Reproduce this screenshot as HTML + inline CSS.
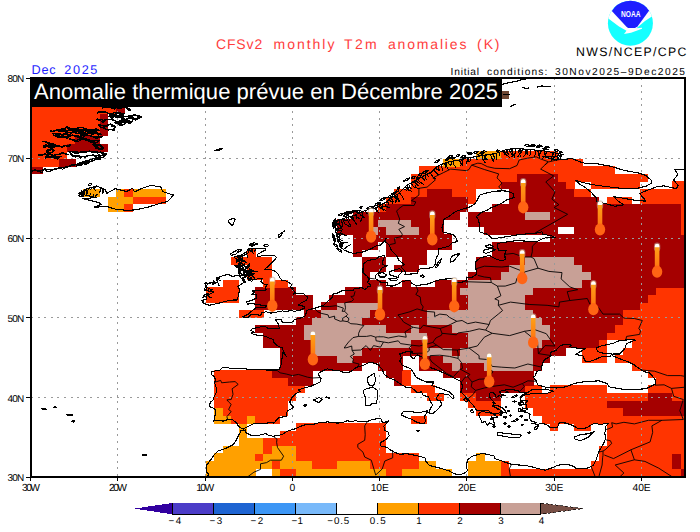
<!DOCTYPE html>
<html><head><meta charset="utf-8">
<style>
html,body{margin:0;padding:0;background:#fff;}
body{width:700px;height:532px;position:relative;overflow:hidden;font-family:"Liberation Sans",sans-serif;}
svg{position:absolute;left:0;top:0;}
.t{position:absolute;white-space:nowrap;line-height:1;}
</style></head><body>
<svg width="700" height="532" viewBox="0 0 700 532" shape-rendering="crispEdges">
<defs>
<linearGradient id="tg" x1="0" y1="0" x2="0" y2="1"><stop offset="0" stop-color="#ffa818"/><stop offset="1" stop-color="#ff7010"/></linearGradient>
<g id="th" shape-rendering="auto">
<rect x="-3.2" y="-1.2" width="6.4" height="9" rx="3.2" fill="#b8a8a8" opacity="0.55"/>
<rect x="-2.3" y="0" width="4.6" height="27" fill="url(#tg)" rx="2.3"/>
<path d="M-2.3 3.6 V2.3 A2.3 2.3 0 0 1 2.3 2.3 V3.6 Z" fill="#fff"/>
<ellipse cx="0" cy="28" rx="5.2" ry="6.1" fill="#ff6414"/>
</g>
<clipPath id="mapclip"><rect x="30.5" y="77.7" width="654.5" height="399.3"/></clipPath>
</defs>
<g id="cells">
<rect x="206.1" y="476.1" width="49.4" height="1.2" fill="#ffa000"/>
<rect x="271.6" y="476.1" width="8.5" height="1.2" fill="#ffa000"/>
<rect x="279.7" y="476.1" width="16.7" height="1.2" fill="#ff3400"/>
<rect x="296.1" y="476.1" width="90.3" height="1.2" fill="#ffa000"/>
<rect x="386.1" y="476.1" width="16.7" height="1.2" fill="#ff3400"/>
<rect x="402.4" y="476.1" width="49.4" height="1.2" fill="#ffa000"/>
<rect x="467.9" y="476.1" width="33.0" height="1.2" fill="#ffa000"/>
<rect x="500.6" y="476.1" width="180.3" height="1.2" fill="#ff3400"/>
<rect x="680.5" y="476.1" width="4.8" height="1.2" fill="#a50000"/>
<rect x="206.1" y="468.6" width="49.4" height="7.9" fill="#ffa000"/>
<rect x="271.6" y="468.6" width="8.5" height="7.9" fill="#ffa000"/>
<rect x="279.7" y="468.6" width="16.7" height="7.9" fill="#ff3400"/>
<rect x="296.1" y="468.6" width="90.3" height="7.9" fill="#ffa000"/>
<rect x="386.1" y="468.6" width="16.7" height="7.9" fill="#ff3400"/>
<rect x="402.4" y="468.6" width="49.4" height="7.9" fill="#ffa000"/>
<rect x="467.9" y="468.6" width="33.0" height="7.9" fill="#ffa000"/>
<rect x="500.6" y="468.6" width="180.3" height="7.9" fill="#ff3400"/>
<rect x="680.5" y="468.6" width="4.8" height="7.9" fill="#a50000"/>
<rect x="206.1" y="461.0" width="65.7" height="7.9" fill="#ffa000"/>
<rect x="271.6" y="461.0" width="8.5" height="7.9" fill="#ff3400"/>
<rect x="279.7" y="461.0" width="33.0" height="7.9" fill="#ffa000"/>
<rect x="312.4" y="461.0" width="24.8" height="7.9" fill="#ff3400"/>
<rect x="337.0" y="461.0" width="33.0" height="7.9" fill="#ffa000"/>
<rect x="369.7" y="461.0" width="49.4" height="7.9" fill="#ff3400"/>
<rect x="418.8" y="461.0" width="16.7" height="7.9" fill="#ffa000"/>
<rect x="467.9" y="461.0" width="33.0" height="7.9" fill="#ffa000"/>
<rect x="500.6" y="461.0" width="8.5" height="7.9" fill="#ff3400"/>
<rect x="590.6" y="461.0" width="82.1" height="7.9" fill="#ff3400"/>
<rect x="672.4" y="461.0" width="8.5" height="7.9" fill="#a50000"/>
<rect x="680.5" y="461.0" width="4.8" height="7.9" fill="#ff3400"/>
<rect x="214.3" y="453.4" width="41.2" height="7.9" fill="#ffa000"/>
<rect x="255.2" y="453.4" width="8.5" height="7.9" fill="#ff3400"/>
<rect x="263.4" y="453.4" width="33.0" height="7.9" fill="#ffa000"/>
<rect x="296.1" y="453.4" width="123.0" height="7.9" fill="#ff3400"/>
<rect x="476.0" y="453.4" width="8.5" height="7.9" fill="#ffa000"/>
<rect x="598.8" y="453.4" width="73.9" height="7.9" fill="#ff3400"/>
<rect x="672.4" y="453.4" width="8.5" height="7.9" fill="#a50000"/>
<rect x="680.5" y="453.4" width="4.8" height="7.9" fill="#ff3400"/>
<rect x="222.5" y="445.9" width="41.2" height="7.9" fill="#ffa000"/>
<rect x="263.4" y="445.9" width="8.5" height="7.9" fill="#ff3400"/>
<rect x="271.6" y="445.9" width="24.8" height="7.9" fill="#ffa000"/>
<rect x="296.1" y="445.9" width="90.3" height="7.9" fill="#ff3400"/>
<rect x="598.8" y="445.9" width="86.5" height="7.9" fill="#ff3400"/>
<rect x="238.8" y="438.3" width="24.8" height="7.9" fill="#ffa000"/>
<rect x="263.4" y="438.3" width="123.0" height="7.9" fill="#ff3400"/>
<rect x="606.9" y="438.3" width="78.4" height="7.9" fill="#ff3400"/>
<rect x="238.8" y="430.8" width="8.5" height="7.9" fill="#ffa000"/>
<rect x="279.7" y="430.8" width="106.6" height="7.9" fill="#ff3400"/>
<rect x="606.9" y="430.8" width="78.4" height="7.9" fill="#ff3400"/>
<rect x="238.8" y="423.2" width="8.5" height="7.9" fill="#ffa000"/>
<rect x="296.1" y="423.2" width="90.3" height="7.9" fill="#ff3400"/>
<rect x="549.7" y="423.2" width="8.5" height="7.9" fill="#ff3400"/>
<rect x="574.2" y="423.2" width="16.7" height="7.9" fill="#ff3400"/>
<rect x="606.9" y="423.2" width="78.4" height="7.9" fill="#ff3400"/>
<rect x="214.3" y="415.7" width="16.7" height="7.9" fill="#ffa000"/>
<rect x="230.7" y="415.7" width="16.7" height="7.9" fill="#ff3400"/>
<rect x="247.0" y="415.7" width="8.5" height="7.9" fill="#ffa000"/>
<rect x="255.2" y="415.7" width="24.8" height="7.9" fill="#ff3400"/>
<rect x="410.6" y="415.7" width="16.7" height="7.9" fill="#ff3400"/>
<rect x="541.5" y="415.7" width="143.8" height="7.9" fill="#ff3400"/>
<rect x="214.3" y="408.1" width="8.5" height="7.9" fill="#ffa000"/>
<rect x="222.5" y="408.1" width="65.7" height="7.9" fill="#ff3400"/>
<rect x="476.0" y="408.1" width="24.8" height="7.9" fill="#ff3400"/>
<rect x="533.3" y="408.1" width="90.3" height="7.9" fill="#ff3400"/>
<rect x="623.3" y="408.1" width="62.0" height="7.9" fill="#a50000"/>
<rect x="214.3" y="400.5" width="73.9" height="7.9" fill="#ff3400"/>
<rect x="467.9" y="400.5" width="33.0" height="7.9" fill="#ff3400"/>
<rect x="525.1" y="400.5" width="82.1" height="7.9" fill="#ff3400"/>
<rect x="606.9" y="400.5" width="78.4" height="7.9" fill="#a50000"/>
<rect x="214.3" y="393.0" width="82.1" height="7.9" fill="#ff3400"/>
<rect x="427.0" y="393.0" width="16.7" height="7.9" fill="#ff3400"/>
<rect x="459.7" y="393.0" width="16.7" height="7.9" fill="#ff3400"/>
<rect x="476.0" y="393.0" width="24.8" height="7.9" fill="#a50000"/>
<rect x="525.1" y="393.0" width="123.0" height="7.9" fill="#ff3400"/>
<rect x="647.8" y="393.0" width="24.8" height="7.9" fill="#a50000"/>
<rect x="672.4" y="393.0" width="12.9" height="7.9" fill="#ff3400"/>
<rect x="214.3" y="385.4" width="90.3" height="7.9" fill="#ff3400"/>
<rect x="410.6" y="385.4" width="24.8" height="7.9" fill="#ff3400"/>
<rect x="459.7" y="385.4" width="65.7" height="7.9" fill="#a50000"/>
<rect x="525.1" y="385.4" width="16.7" height="7.9" fill="#ff3400"/>
<rect x="549.7" y="385.4" width="57.6" height="7.9" fill="#ff3400"/>
<rect x="647.8" y="385.4" width="37.5" height="7.9" fill="#ff3400"/>
<rect x="214.3" y="377.9" width="73.9" height="7.9" fill="#ff3400"/>
<rect x="287.9" y="377.9" width="24.8" height="7.9" fill="#a50000"/>
<rect x="394.2" y="377.9" width="8.5" height="7.9" fill="#a50000"/>
<rect x="402.4" y="377.9" width="8.5" height="7.9" fill="#ff3400"/>
<rect x="459.7" y="377.9" width="73.9" height="7.9" fill="#a50000"/>
<rect x="656.0" y="377.9" width="29.3" height="7.9" fill="#ff3400"/>
<rect x="214.3" y="370.3" width="57.6" height="7.9" fill="#ff3400"/>
<rect x="271.6" y="370.3" width="41.2" height="7.9" fill="#a50000"/>
<rect x="386.1" y="370.3" width="16.7" height="7.9" fill="#a50000"/>
<rect x="402.4" y="370.3" width="8.5" height="7.9" fill="#ff3400"/>
<rect x="443.3" y="370.3" width="90.3" height="7.9" fill="#a50000"/>
<rect x="647.8" y="370.3" width="37.5" height="7.9" fill="#ff3400"/>
<rect x="279.7" y="362.8" width="82.1" height="7.9" fill="#a50000"/>
<rect x="377.9" y="362.8" width="24.8" height="7.9" fill="#a50000"/>
<rect x="418.8" y="362.8" width="33.0" height="7.9" fill="#a50000"/>
<rect x="451.5" y="362.8" width="8.5" height="7.9" fill="#c8a096"/>
<rect x="459.7" y="362.8" width="24.8" height="7.9" fill="#a50000"/>
<rect x="484.2" y="362.8" width="49.4" height="7.9" fill="#c8a096"/>
<rect x="533.3" y="362.8" width="8.5" height="7.9" fill="#a50000"/>
<rect x="631.5" y="362.8" width="53.8" height="7.9" fill="#ff3400"/>
<rect x="279.7" y="355.2" width="57.6" height="7.9" fill="#a50000"/>
<rect x="337.0" y="355.2" width="16.7" height="7.9" fill="#c8a096"/>
<rect x="353.4" y="355.2" width="49.4" height="7.9" fill="#a50000"/>
<rect x="418.8" y="355.2" width="24.8" height="7.9" fill="#a50000"/>
<rect x="443.3" y="355.2" width="90.3" height="7.9" fill="#c8a096"/>
<rect x="533.3" y="355.2" width="16.7" height="7.9" fill="#a50000"/>
<rect x="582.4" y="355.2" width="24.8" height="7.9" fill="#ff3400"/>
<rect x="615.1" y="355.2" width="70.2" height="7.9" fill="#ff3400"/>
<rect x="279.7" y="347.7" width="33.0" height="7.9" fill="#a50000"/>
<rect x="312.4" y="347.7" width="49.4" height="7.9" fill="#c8a096"/>
<rect x="361.5" y="347.7" width="65.7" height="7.9" fill="#a50000"/>
<rect x="427.0" y="347.7" width="24.8" height="7.9" fill="#c8a096"/>
<rect x="451.5" y="347.7" width="8.5" height="7.9" fill="#a50000"/>
<rect x="459.7" y="347.7" width="73.9" height="7.9" fill="#c8a096"/>
<rect x="533.3" y="347.7" width="33.0" height="7.9" fill="#a50000"/>
<rect x="582.4" y="347.7" width="24.8" height="7.9" fill="#ff3400"/>
<rect x="623.3" y="347.7" width="62.0" height="7.9" fill="#ff3400"/>
<rect x="263.4" y="340.1" width="49.4" height="7.9" fill="#a50000"/>
<rect x="312.4" y="340.1" width="98.5" height="7.9" fill="#c8a096"/>
<rect x="410.6" y="340.1" width="57.6" height="7.9" fill="#a50000"/>
<rect x="467.9" y="340.1" width="73.9" height="7.9" fill="#c8a096"/>
<rect x="541.5" y="340.1" width="57.6" height="7.9" fill="#a50000"/>
<rect x="598.8" y="340.1" width="8.5" height="7.9" fill="#ff3400"/>
<rect x="631.5" y="340.1" width="53.8" height="7.9" fill="#ff3400"/>
<rect x="263.4" y="332.5" width="41.2" height="7.9" fill="#a50000"/>
<rect x="304.3" y="332.5" width="123.0" height="7.9" fill="#c8a096"/>
<rect x="427.0" y="332.5" width="41.2" height="7.9" fill="#a50000"/>
<rect x="467.9" y="332.5" width="82.1" height="7.9" fill="#c8a096"/>
<rect x="549.7" y="332.5" width="57.6" height="7.9" fill="#a50000"/>
<rect x="606.9" y="332.5" width="78.4" height="7.9" fill="#ff3400"/>
<rect x="255.2" y="325.0" width="49.4" height="7.9" fill="#a50000"/>
<rect x="304.3" y="325.0" width="82.1" height="7.9" fill="#c8a096"/>
<rect x="386.1" y="325.0" width="24.8" height="7.9" fill="#a50000"/>
<rect x="410.6" y="325.0" width="8.5" height="7.9" fill="#c8a096"/>
<rect x="418.8" y="325.0" width="33.0" height="7.9" fill="#a50000"/>
<rect x="451.5" y="325.0" width="98.5" height="7.9" fill="#c8a096"/>
<rect x="549.7" y="325.0" width="65.7" height="7.9" fill="#a50000"/>
<rect x="615.1" y="325.0" width="70.2" height="7.9" fill="#ff3400"/>
<rect x="296.1" y="317.4" width="16.7" height="7.9" fill="#a50000"/>
<rect x="312.4" y="317.4" width="49.4" height="7.9" fill="#c8a096"/>
<rect x="361.5" y="317.4" width="65.7" height="7.9" fill="#a50000"/>
<rect x="427.0" y="317.4" width="114.8" height="7.9" fill="#c8a096"/>
<rect x="541.5" y="317.4" width="82.1" height="7.9" fill="#a50000"/>
<rect x="623.3" y="317.4" width="62.0" height="7.9" fill="#ff3400"/>
<rect x="238.8" y="309.9" width="24.8" height="7.9" fill="#ff3400"/>
<rect x="304.3" y="309.9" width="16.7" height="7.9" fill="#a50000"/>
<rect x="320.6" y="309.9" width="49.4" height="7.9" fill="#c8a096"/>
<rect x="369.7" y="309.9" width="57.6" height="7.9" fill="#a50000"/>
<rect x="427.0" y="309.9" width="106.6" height="7.9" fill="#c8a096"/>
<rect x="533.3" y="309.9" width="90.3" height="7.9" fill="#a50000"/>
<rect x="623.3" y="309.9" width="62.0" height="7.9" fill="#ff3400"/>
<rect x="255.2" y="302.3" width="57.6" height="7.9" fill="#a50000"/>
<rect x="320.6" y="302.3" width="16.7" height="7.9" fill="#a50000"/>
<rect x="337.0" y="302.3" width="41.2" height="7.9" fill="#c8a096"/>
<rect x="377.9" y="302.3" width="90.3" height="7.9" fill="#a50000"/>
<rect x="467.9" y="302.3" width="57.6" height="7.9" fill="#c8a096"/>
<rect x="525.1" y="302.3" width="114.8" height="7.9" fill="#a50000"/>
<rect x="639.6" y="302.3" width="45.7" height="7.9" fill="#ff3400"/>
<rect x="206.1" y="294.8" width="33.0" height="7.9" fill="#ff3400"/>
<rect x="255.2" y="294.8" width="57.6" height="7.9" fill="#a50000"/>
<rect x="328.8" y="294.8" width="139.4" height="7.9" fill="#a50000"/>
<rect x="467.9" y="294.8" width="57.6" height="7.9" fill="#c8a096"/>
<rect x="525.1" y="294.8" width="123.0" height="7.9" fill="#a50000"/>
<rect x="647.8" y="294.8" width="37.5" height="7.9" fill="#ff3400"/>
<rect x="206.1" y="287.2" width="33.0" height="7.9" fill="#ff3400"/>
<rect x="255.2" y="287.2" width="41.2" height="7.9" fill="#a50000"/>
<rect x="345.2" y="287.2" width="114.8" height="7.9" fill="#a50000"/>
<rect x="459.7" y="287.2" width="73.9" height="7.9" fill="#c8a096"/>
<rect x="533.3" y="287.2" width="123.0" height="7.9" fill="#a50000"/>
<rect x="656.0" y="287.2" width="29.3" height="7.9" fill="#ff3400"/>
<rect x="222.5" y="279.7" width="16.7" height="7.9" fill="#ff3400"/>
<rect x="263.4" y="279.7" width="24.8" height="7.9" fill="#ff3400"/>
<rect x="361.5" y="279.7" width="24.8" height="7.9" fill="#a50000"/>
<rect x="402.4" y="279.7" width="8.5" height="7.9" fill="#a50000"/>
<rect x="435.1" y="279.7" width="33.0" height="7.9" fill="#a50000"/>
<rect x="467.9" y="279.7" width="114.8" height="7.9" fill="#c8a096"/>
<rect x="582.4" y="279.7" width="102.9" height="7.9" fill="#a50000"/>
<rect x="247.0" y="272.1" width="24.8" height="7.9" fill="#ff3400"/>
<rect x="361.5" y="272.1" width="8.5" height="7.9" fill="#a50000"/>
<rect x="467.9" y="272.1" width="33.0" height="7.9" fill="#a50000"/>
<rect x="500.6" y="272.1" width="90.3" height="7.9" fill="#c8a096"/>
<rect x="590.6" y="272.1" width="94.7" height="7.9" fill="#a50000"/>
<rect x="247.0" y="264.5" width="24.8" height="7.9" fill="#ff3400"/>
<rect x="361.5" y="264.5" width="24.8" height="7.9" fill="#a50000"/>
<rect x="394.2" y="264.5" width="24.8" height="7.9" fill="#a50000"/>
<rect x="476.0" y="264.5" width="33.0" height="7.9" fill="#a50000"/>
<rect x="508.8" y="264.5" width="73.9" height="7.9" fill="#c8a096"/>
<rect x="582.4" y="264.5" width="102.9" height="7.9" fill="#a50000"/>
<rect x="230.7" y="257.0" width="41.2" height="7.9" fill="#ff3400"/>
<rect x="361.5" y="257.0" width="24.8" height="7.9" fill="#a50000"/>
<rect x="402.4" y="257.0" width="24.8" height="7.9" fill="#a50000"/>
<rect x="476.0" y="257.0" width="49.4" height="7.9" fill="#a50000"/>
<rect x="525.1" y="257.0" width="49.4" height="7.9" fill="#c8a096"/>
<rect x="574.2" y="257.0" width="111.1" height="7.9" fill="#a50000"/>
<rect x="247.0" y="249.4" width="8.5" height="7.9" fill="#ff3400"/>
<rect x="353.4" y="249.4" width="8.5" height="7.9" fill="#a50000"/>
<rect x="386.1" y="249.4" width="41.2" height="7.9" fill="#a50000"/>
<rect x="492.4" y="249.4" width="192.9" height="7.9" fill="#a50000"/>
<rect x="353.4" y="241.9" width="24.8" height="7.9" fill="#a50000"/>
<rect x="386.1" y="241.9" width="65.7" height="7.9" fill="#a50000"/>
<rect x="492.4" y="241.9" width="192.9" height="7.9" fill="#a50000"/>
<rect x="353.4" y="234.3" width="98.5" height="7.9" fill="#a50000"/>
<rect x="549.7" y="234.3" width="135.6" height="7.9" fill="#a50000"/>
<rect x="337.0" y="226.8" width="33.0" height="7.9" fill="#a50000"/>
<rect x="369.7" y="226.8" width="8.5" height="7.9" fill="#c8a096"/>
<rect x="377.9" y="226.8" width="8.5" height="7.9" fill="#a50000"/>
<rect x="386.1" y="226.8" width="33.0" height="7.9" fill="#c8a096"/>
<rect x="418.8" y="226.8" width="24.8" height="7.9" fill="#a50000"/>
<rect x="484.2" y="226.8" width="73.9" height="7.9" fill="#a50000"/>
<rect x="574.2" y="226.8" width="106.6" height="7.9" fill="#a50000"/>
<rect x="680.5" y="226.8" width="4.8" height="7.9" fill="#ff3400"/>
<rect x="337.0" y="219.2" width="41.2" height="7.9" fill="#a50000"/>
<rect x="377.9" y="219.2" width="33.0" height="7.9" fill="#c8a096"/>
<rect x="410.6" y="219.2" width="33.0" height="7.9" fill="#a50000"/>
<rect x="467.9" y="219.2" width="213.0" height="7.9" fill="#a50000"/>
<rect x="680.5" y="219.2" width="4.8" height="7.9" fill="#ff3400"/>
<rect x="353.4" y="211.6" width="106.6" height="7.9" fill="#a50000"/>
<rect x="467.9" y="211.6" width="57.6" height="7.9" fill="#a50000"/>
<rect x="525.1" y="211.6" width="24.8" height="7.9" fill="#c8a096"/>
<rect x="549.7" y="211.6" width="131.2" height="7.9" fill="#a50000"/>
<rect x="680.5" y="211.6" width="4.8" height="7.9" fill="#ff3400"/>
<rect x="108.0" y="204.1" width="16.7" height="7.9" fill="#ffa000"/>
<rect x="124.3" y="204.1" width="8.5" height="7.9" fill="#ff3400"/>
<rect x="377.9" y="204.1" width="8.5" height="7.9" fill="#ff3400"/>
<rect x="386.1" y="204.1" width="82.1" height="7.9" fill="#a50000"/>
<rect x="492.4" y="204.1" width="188.4" height="7.9" fill="#a50000"/>
<rect x="680.5" y="204.1" width="4.8" height="7.9" fill="#ff3400"/>
<rect x="108.0" y="196.5" width="24.8" height="7.9" fill="#ffa000"/>
<rect x="132.5" y="196.5" width="33.0" height="7.9" fill="#ff3400"/>
<rect x="386.1" y="196.5" width="24.8" height="7.9" fill="#ff3400"/>
<rect x="410.6" y="196.5" width="57.6" height="7.9" fill="#a50000"/>
<rect x="467.9" y="196.5" width="8.5" height="7.9" fill="#ff3400"/>
<rect x="508.8" y="196.5" width="90.3" height="7.9" fill="#a50000"/>
<rect x="606.9" y="196.5" width="24.8" height="7.9" fill="#ff3400"/>
<rect x="639.6" y="196.5" width="45.7" height="7.9" fill="#ff3400"/>
<rect x="83.4" y="189.0" width="16.7" height="7.9" fill="#ffa000"/>
<rect x="116.1" y="189.0" width="8.5" height="7.9" fill="#ffa000"/>
<rect x="124.3" y="189.0" width="8.5" height="7.9" fill="#ff3400"/>
<rect x="132.5" y="189.0" width="33.0" height="7.9" fill="#ffa000"/>
<rect x="394.2" y="189.0" width="33.0" height="7.9" fill="#ff3400"/>
<rect x="427.0" y="189.0" width="24.8" height="7.9" fill="#a50000"/>
<rect x="451.5" y="189.0" width="24.8" height="7.9" fill="#ff3400"/>
<rect x="508.8" y="189.0" width="65.7" height="7.9" fill="#a50000"/>
<rect x="574.2" y="189.0" width="16.7" height="7.9" fill="#ff3400"/>
<rect x="639.6" y="189.0" width="45.7" height="7.9" fill="#ff3400"/>
<rect x="410.6" y="181.4" width="90.3" height="7.9" fill="#ff3400"/>
<rect x="500.6" y="181.4" width="65.7" height="7.9" fill="#a50000"/>
<rect x="566.0" y="181.4" width="8.5" height="7.9" fill="#ff3400"/>
<rect x="590.6" y="181.4" width="49.4" height="7.9" fill="#ff3400"/>
<rect x="672.4" y="181.4" width="12.9" height="7.9" fill="#ff3400"/>
<rect x="410.6" y="173.9" width="106.6" height="7.9" fill="#ff3400"/>
<rect x="517.0" y="173.9" width="41.2" height="7.9" fill="#a50000"/>
<rect x="557.8" y="173.9" width="90.3" height="7.9" fill="#ff3400"/>
<rect x="30.5" y="166.3" width="12.3" height="7.9" fill="#a50000"/>
<rect x="418.8" y="166.3" width="196.6" height="7.9" fill="#ff3400"/>
<rect x="30.5" y="158.8" width="28.7" height="7.9" fill="#ff3400"/>
<rect x="58.9" y="158.8" width="16.7" height="7.9" fill="#a50000"/>
<rect x="443.3" y="158.8" width="16.7" height="7.9" fill="#ffa000"/>
<rect x="459.7" y="158.8" width="123.0" height="7.9" fill="#ff3400"/>
<rect x="30.5" y="151.2" width="36.9" height="7.9" fill="#ff3400"/>
<rect x="476.0" y="151.2" width="24.8" height="7.9" fill="#ffa000"/>
<rect x="500.6" y="151.2" width="57.6" height="7.9" fill="#ff3400"/>
<rect x="30.5" y="143.6" width="36.9" height="7.9" fill="#ff3400"/>
<rect x="67.1" y="143.6" width="41.2" height="7.9" fill="#a50000"/>
<rect x="30.5" y="136.1" width="45.0" height="7.9" fill="#ff3400"/>
<rect x="75.2" y="136.1" width="24.8" height="7.9" fill="#a50000"/>
<rect x="30.5" y="128.5" width="69.6" height="7.9" fill="#ff3400"/>
<rect x="99.8" y="128.5" width="8.5" height="7.9" fill="#a50000"/>
<rect x="30.5" y="121.0" width="69.6" height="7.9" fill="#ff3400"/>
<rect x="99.8" y="121.0" width="8.5" height="7.9" fill="#a50000"/>
<rect x="30.5" y="113.4" width="69.6" height="7.9" fill="#ff3400"/>
<rect x="99.8" y="113.4" width="8.5" height="7.9" fill="#a50000"/>
<rect x="30.5" y="105.9" width="85.9" height="7.9" fill="#ff3400"/>
<rect x="116.1" y="105.9" width="8.5" height="7.9" fill="#a50000"/>
<rect x="500.6" y="90.8" width="8.5" height="7.9" fill="#6e4632"/>
</g>
<g id="gridlines" stroke="#9a9a9a" stroke-width="1" stroke-dasharray="2,4.6" fill="none">
<path d="M117.8 78V477M205 78V477M292.3 78V477M379.6 78V477M466.8 78V477M554.1 78V477M641.4 78V477"/>
<path d="M31 158H685M31 238H685M31 317.5H685M31 397.5H685"/>
</g>
<g id="lines" fill="none" stroke="#000" stroke-width="1" shape-rendering="crispEdges" clip-path="url(#mapclip)" stroke-linejoin="round">
<path d="M276.6 370.0 L267.0 370.0 L259.1 369.2 L253.0 370.0 L242.6 368.4 L231.2 368.4 L225.1 367.2 L222.5 367.6 L219.9 370.0 L212.0 371.6 L211.1 374.0 L214.6 377.2 L215.5 380.4 L214.6 382.8 L216.4 388.0 L216.4 392.3 L214.6 395.5 L212.9 400.3 L210.3 401.9 L209.4 406.7 L212.0 407.5 L214.6 409.1 L215.5 409.9 L215.5 413.9 L214.6 417.1 L213.8 421.1 L217.3 420.3 L223.4 421.1 L227.7 419.5 L232.1 419.5 L236.5 422.7 L238.2 425.9 L239.9 427.5 L243.4 429.1 L246.1 427.5 L253.9 423.5 L261.8 423.5 L271.4 422.7 L274.0 423.1 L278.3 417.9 L286.2 416.3 L286.2 413.1 L287.9 410.7 L294.1 407.1 L291.4 405.1 L289.7 401.9 L292.3 397.1 L296.7 393.1 L300.2 391.5 L298.4 390.0 L302.8 388.4 L311.5 386.0 L320.2 382.0 L321.1 378.8 L319.4 377.2 L318.5 373.2 L322.9 370.8 L327.2 368.8 L334.2 370.4 L339.4 370.8 L343.8 372.4 L346.4 372.8 L350.8 371.6 L356.0 367.6 L357.8 366.8 L363.9 365.2 L370.0 362.0 L377.8 364.4 L382.2 369.2 L383.9 374.0 L389.2 378.0 L395.3 380.4 L399.7 383.6 L405.8 387.2 L411.0 387.2 L415.4 390.8 L417.1 392.3 L421.5 391.9 L423.2 395.5 L428.5 396.7 L430.2 401.1 L432.8 405.1 L430.6 407.9 L428.9 413.1 L432.8 413.5 L437.2 409.9 L441.5 405.1 L440.7 401.1 L436.3 399.5 L437.2 396.3 L439.8 393.1 L443.3 393.9 L448.5 394.7 L452.9 398.7 L453.8 395.9 L449.4 391.9 L440.7 388.4 L431.9 385.6 L433.7 382.0 L426.7 382.0 L420.6 379.6 L416.2 377.2 L411.0 368.8 L402.3 365.2 L399.7 361.2 L401.4 357.6 L399.7 354.0 L406.6 351.6 L412.7 352.0 L410.1 353.2 L411.0 356.4 L413.6 358.8 L417.1 354.8 L422.3 357.2 L425.0 362.8 L431.9 368.4 L435.4 369.2 L444.2 373.2 L450.3 376.0 L453.8 378.0 L459.0 380.4 L461.6 382.4 L462.5 386.8 L460.7 392.3 L462.5 393.5 L466.9 398.3 L468.6 400.3 L473.0 405.1 L476.4 410.3 L481.7 410.7 L487.8 410.3 L492.2 413.5 L486.9 412.3 L481.7 411.5 L478.2 413.9 L480.8 419.5 L481.7 422.7 L485.2 421.5 L487.8 425.5 L489.5 422.7 L494.8 425.5 L493.0 418.7 L491.3 416.7 L494.8 417.9 L497.4 417.1 L493.0 413.9 L498.3 413.5 L501.8 415.9 L502.2 411.5 L498.3 409.1 L492.2 406.3 L493.9 404.3 L492.6 402.3 L495.6 403.5 L492.2 400.3 L489.5 397.1 L489.5 393.1 L492.6 392.3 L495.6 395.1 L496.1 397.5 L499.1 395.5 L501.8 397.5 L501.8 394.7 L505.2 395.9 L500.9 393.9 L499.1 391.5 L505.2 390.0 L511.4 389.6 L518.3 390.4 L519.6 392.3 L526.2 392.3 L521.0 396.3 L525.3 393.9 L527.9 392.3 L532.3 389.4 L536.7 389.2 L545.4 389.2 L546.3 387.3 L537.5 384.8 L536.7 381.6 L533.2 377.2 L535.8 375.6 L536.2 371.6 L541.0 370.0 L541.9 366.8 L542.3 363.6 L544.5 359.6 L551.1 356.0 L550.6 352.4 L555.9 350.4 L560.7 345.2 L567.2 344.4 L571.6 345.2 L569.8 346.8 L578.6 348.4 L585.5 348.4 L575.9 354.4 L582.9 356.0 L584.7 360.4 L586.8 362.0 L590.8 361.2 L597.8 358.4 L601.2 356.8 L610.0 356.4 L611.7 354.0 L604.7 353.6 L597.8 351.6 L596.0 348.0 L601.2 346.0 L613.5 343.2 L620.0 340.4 L631.8 339.6 L635.3 340.0 L626.6 343.6 L624.8 348.8 L619.6 354.0 L613.5 354.0 L612.2 355.6 L617.8 358.0 L622.2 359.6 L628.3 362.0 L633.5 364.4 L638.8 368.4 L644.0 371.6 L650.1 373.2 L655.4 380.0 L655.4 384.0 L645.8 388.8 L638.8 389.2 L627.4 389.6 L623.1 389.2 L615.2 388.0 L609.1 386.8 L607.4 383.6 L599.1 380.9 L587.3 381.3 L575.1 383.2 L566.3 386.8 L556.7 388.0 L546.3 387.3 M545.8 389.2 L553.2 391.2 L546.3 393.5 L535.8 393.1 L530.6 393.9 L522.7 395.5 L521.0 397.5 L520.1 401.1 L527.5 400.7 L525.3 403.5 L527.1 405.9 L526.2 407.9 L527.9 409.5 L522.7 407.9 L521.8 411.1 L526.2 412.3 L530.1 413.9 L529.7 418.3 L531.4 421.1 L536.7 422.7 L531.4 423.5 L537.5 424.3 L541.9 423.5 L546.3 424.3 L550.6 427.9 L557.6 427.1 L559.4 422.7 L566.3 423.1 L571.6 425.1 L578.6 428.7 L586.4 427.9 L594.3 423.1 L601.2 424.7 L604.7 423.5 L608.2 423.5 L605.6 426.7 L606.0 429.1 L604.7 433.1 L605.6 437.9 L604.7 441.5 L602.1 445.9 L599.5 450.6 L597.8 454.6 L596.0 460.2 L593.4 465.0 L590.8 466.6 L587.3 468.2 L580.3 468.2 L575.9 468.2 L574.2 466.6 L569.8 465.0 L562.8 464.2 L557.6 465.4 L553.2 467.4 L545.4 470.2 L536.7 468.2 L529.7 466.2 L519.2 465.0 L512.2 464.6 L501.8 461.0 L494.8 458.6 L493.9 455.8 L484.3 453.8 L480.8 453.8 L472.1 456.2 L467.3 460.2 L466.4 467.4 L467.7 470.6 L463.4 473.8 L458.1 474.6 L454.6 473.8 L449.4 471.0 L444.2 469.4 L437.2 467.4 L429.3 465.4 L425.8 461.0 L425.0 457.8 L417.1 455.8 L407.5 453.8 L399.7 454.2 L393.5 451.8 L389.2 449.0 L387.4 447.5 L380.5 445.9 L380.5 442.7 L386.6 439.1 L389.2 435.5 L388.3 432.3 L384.8 430.3 L383.9 426.3 L388.7 420.7 L384.8 422.3 L382.2 422.3 L381.3 419.1 L378.3 418.5 L372.6 419.5 L367.4 421.5 L360.4 421.9 L355.1 420.5 L352.5 421.9 L347.3 420.7 L342.1 422.7 L336.8 423.1 L328.1 421.9 L318.9 422.7 L313.3 424.3 L303.7 425.1 L293.2 429.5 L289.7 430.3 L286.6 431.5 L281.8 434.7 L273.1 436.3 L266.6 434.7 L266.1 433.5 L258.3 435.5 L251.3 435.5 L246.1 432.7 L245.6 429.9 L240.8 430.7 L239.9 433.1 L237.3 437.9 L234.7 442.7 L232.5 445.1 L226.0 448.3 L218.1 451.0 L213.8 455.4 L211.6 458.6 L206.8 465.0 L206.3 472.2 L208.5 473.8 L207.7 477.0 M276.6 370.0 L279.2 369.2 L281.0 365.2 L281.8 360.0 L282.7 352.8 L286.2 356.4 L283.6 351.6 L282.3 348.0 L276.6 345.2 L273.5 342.0 L273.1 339.2 L270.5 338.8 L267.9 337.2 L262.6 335.6 L254.3 334.8 L251.3 332.9 L254.8 332.5 L250.9 330.5 L252.2 328.5 L257.8 327.7 L261.8 326.5 L265.3 326.5 L268.7 328.9 L274.9 328.1 L279.2 328.1 L278.3 323.7 L275.3 319.5 L281.0 319.7 L282.7 322.5 L290.6 322.9 L293.2 321.3 L294.1 319.7 L301.9 317.7 L305.8 315.7 L306.3 311.3 L308.5 309.7 L314.1 308.5 L320.2 306.5 L323.7 305.3 L327.2 301.7 L332.0 297.7 L333.3 293.7 L336.8 293.3 L339.4 292.0 L343.8 290.1 L353.4 290.5 L354.3 288.5 L362.1 287.7 L364.7 289.3 L366.5 288.5 L368.2 286.4 L370.9 286.1 L370.0 284.5 L367.4 282.5 L369.5 278.9 L367.8 277.4 L367.4 276.2 L363.0 273.0 L363.0 269.4 L363.4 264.2 L367.4 260.6 L376.1 259.0 L379.1 256.6 L384.8 255.4 L383.9 258.2 L382.2 262.2 L382.2 264.6 L387.4 265.8 L382.2 267.8 L379.6 271.8 L377.4 273.4 L375.2 275.8 L375.2 278.5 L379.6 281.3 L380.9 282.5 L387.4 282.1 L387.0 285.7 L392.2 286.1 L397.9 284.1 L401.4 281.7 L409.3 280.1 L411.9 283.3 L416.2 285.7 L428.0 283.9 L436.3 280.9 L440.7 279.3 L452.0 278.7 L456.4 280.5 L454.2 281.3 L455.5 282.4 L461.6 282.5 L466.0 280.5 L466.4 277.7 L471.2 277.7 L476.0 275.0 L476.4 271.8 L476.0 269.4 L475.6 265.4 L476.0 261.4 L480.4 257.8 L489.5 255.4 L494.8 258.6 L501.8 261.0 L505.2 259.4 L504.8 254.2 L506.1 250.6 L499.1 250.6 L497.4 247.4 L497.0 243.8 L502.2 242.4 L508.3 241.8 L516.6 240.6 L523.6 241.0 L537.1 241.7 L540.2 239.8 L545.4 237.8 L555.9 237.8 L551.5 235.8 L542.8 234.2 L541.9 231.8 L534.9 233.4 L527.1 233.8 L516.6 235.0 L510.0 236.2 L501.8 237.4 L492.6 238.9 L489.5 235.8 L486.0 233.8 L479.1 231.8 L479.9 228.2 L479.5 224.6 L478.2 219.1 L476.4 216.7 L480.8 212.7 L487.8 209.9 L490.4 207.9 L493.9 206.7 L501.8 203.1 L506.6 199.9 L514.0 197.5 L513.1 193.5 L507.0 191.1 L503.1 190.9 L494.8 191.1 L486.0 193.1 L479.9 195.1 L477.3 199.9 L474.7 203.9 L469.5 207.1 L461.6 209.5 L455.5 211.5 L451.1 214.7 L449.0 216.7 L444.2 218.7 L443.3 223.8 L442.0 227.0 L442.4 231.8 L448.5 233.4 L453.8 235.0 L456.4 238.6 L457.3 241.4 L452.0 243.0 L449.0 246.2 L441.5 248.2 L438.1 249.0 L438.9 254.2 L437.6 255.4 L435.9 259.2 L435.4 264.1 L432.4 267.8 L428.5 268.1 L421.5 268.2 L417.1 270.6 L417.5 273.0 L412.7 273.9 L404.9 274.3 L405.8 272.6 L403.1 269.0 L401.0 267.0 L404.5 264.2 L399.2 260.6 L396.6 255.8 L391.4 250.6 L389.6 245.8 L387.9 243.8 L385.3 241.8 L386.1 238.2 L383.9 241.8 L380.5 245.0 L376.1 245.8 L371.7 248.6 L368.7 249.8 L362.1 252.2 L353.8 253.4 L349.9 252.6 L343.8 249.8 L340.7 247.4 L342.1 245.4 L338.1 242.2 L337.7 238.2 L336.8 235.8 L335.9 232.6 L335.1 229.0 L335.5 224.6 L336.8 220.6 L346.0 217.7 L354.7 215.5 L359.5 212.7 L368.2 209.5 L376.1 207.9 L379.6 205.5 L387.4 201.5 L390.1 198.3 L398.8 193.5 L402.3 189.5 L407.5 184.7 L418.0 179.3 L426.7 174.3 L431.9 171.9 L436.3 167.1 L440.7 164.7 L449.4 161.6 L457.7 160.4 L466.9 157.6 L475.6 156.8 L484.3 155.2 L495.6 153.6 L506.1 149.6 L517.3 148.2 L527.9 149.6 L541.0 150.4 L549.8 152.0 L563.7 154.6 L553.2 156.8 L542.8 156.4 L554.1 159.6 L562.8 159.6 L571.6 158.4 L580.3 162.0 L584.7 163.2 L597.8 163.9 L610.8 166.3 L623.9 170.3 L638.8 173.1 L645.8 175.5 L651.0 179.9 L651.9 183.1 L645.8 186.3 L637.0 188.3 L623.9 188.7 L610.8 187.1 L597.8 185.5 L589.0 183.9 L580.3 181.9 L575.9 180.3 L579.4 183.9 L584.7 187.1 L590.8 191.9 L596.0 197.5 L596.9 201.5 L606.5 203.9 L615.2 206.3 L623.9 204.7 L619.6 202.3 L613.5 196.7 L623.9 198.3 L637.0 200.7 L645.8 201.1 L643.1 197.5 L639.6 193.5 L648.4 189.9 L658.0 186.3 L664.1 185.9 L676.3 188.7 L678.0 185.5 L673.7 179.9 L678.0 174.3 L674.6 169.5 L685.0 169.5 M242.6 316.9 L248.2 314.1 L252.6 310.5 L255.7 307.7 L262.6 307.7 L266.1 306.9 L268.7 304.9 L264.4 305.7 L257.8 304.5 L254.8 304.9 L254.3 303.3 L247.8 304.1 L246.1 302.1 L251.3 300.5 L256.5 298.1 L257.0 294.1 L250.9 294.9 L254.8 292.1 L252.2 290.9 L256.5 290.9 L265.3 290.5 L266.1 289.7 L265.7 286.9 L267.4 284.5 L264.4 284.5 L260.9 281.3 L262.6 278.1 L260.9 278.1 L253.9 279.7 L248.7 280.1 L247.4 277.4 L251.7 273.8 L249.5 271.4 L250.9 269.8 L246.1 271.0 L243.4 275.0 L243.4 269.4 L244.3 266.2 L238.2 263.8 L241.7 261.4 L242.6 259.0 L241.7 255.0 L246.9 251.4 L248.7 248.4 L257.4 248.8 L265.7 248.2 L265.3 250.2 L257.4 254.2 L257.4 256.6 L263.5 255.6 L274.9 255.8 L276.6 257.4 L274.4 260.2 L270.9 263.8 L267.9 266.6 L264.4 269.4 L270.5 269.4 L274.9 271.2 L278.3 274.2 L279.7 277.4 L281.8 280.1 L287.1 281.3 L291.4 284.4 L290.6 287.3 L293.6 288.5 L291.4 288.5 L295.4 292.5 L293.2 294.1 L296.7 293.7 L303.7 293.9 L307.6 297.3 L306.3 300.5 L303.7 301.7 L300.6 303.3 L298.4 305.3 L304.5 306.3 L304.5 308.1 L300.8 309.9 L294.9 311.3 L291.0 310.7 L285.3 311.5 L282.7 310.9 L278.8 311.5 L275.3 312.5 L270.9 313.1 L266.1 311.7 L261.8 312.9 L260.5 315.5 L256.1 314.5 L250.4 314.9 L248.2 317.3 L242.6 316.9 M239.5 290.5 L238.2 296.5 L236.8 300.0 L230.3 300.1 L219.9 302.9 L209.4 305.3 L203.3 303.3 L202.0 300.5 L206.8 298.9 L205.9 296.9 L210.3 293.7 L213.8 292.1 L204.2 290.1 L205.9 286.1 L205.0 283.3 L212.0 282.9 L218.1 282.9 L216.4 280.1 L219.0 277.0 L227.7 274.3 L232.1 276.2 L238.6 275.6 L242.6 279.3 L244.7 282.1 L240.8 284.5 L237.8 286.5 L239.1 288.9 L239.5 290.5 M94.2 207.1 L101.2 204.3 L99.4 202.7 L82.9 198.7 L96.0 197.5 L78.5 193.5 L87.2 188.7 L96.8 185.9 L105.6 189.9 L106.4 193.5 L115.2 188.7 L126.5 191.5 L132.6 188.3 L134.4 191.9 L141.3 188.7 L150.9 185.3 L161.4 187.1 L162.3 191.5 L173.6 195.1 L167.5 201.5 L159.7 203.5 L148.3 207.1 L135.2 209.9 L126.5 210.3 L115.2 209.1 L107.3 206.7 L94.2 207.1 M401.0 414.7 L403.1 411.9 L408.8 411.5 L418.9 412.7 L428.0 410.7 L424.1 417.1 L425.8 420.7 L424.1 423.9 L418.0 422.7 L411.0 419.1 L404.9 416.7 L401.0 414.7 M363.9 389.6 L372.6 387.2 L377.0 390.0 L377.8 397.1 L376.1 403.5 L371.7 403.5 L369.5 405.9 L365.6 405.1 L365.6 397.9 L363.4 392.3 L363.9 389.6 M367.4 378.0 L373.9 373.2 L375.7 379.6 L374.3 384.4 L372.6 386.2 L369.1 384.8 L367.4 381.2 L367.4 378.0 M497.8 432.3 L503.5 433.1 L510.5 433.9 L517.5 434.7 L521.8 435.1 L520.1 437.1 L510.5 437.5 L501.8 435.9 L497.4 435.1 L497.8 432.3 M574.2 436.7 L579.4 435.5 L580.3 434.3 L588.2 433.9 L594.3 431.5 L589.0 436.7 L585.5 438.7 L580.3 440.7 L575.1 439.1 L574.2 436.7 M312.8 400.3 L319.4 397.5 L322.4 399.5 L318.9 402.7 L315.9 401.1 L312.8 400.3 M325.5 396.7 L329.8 397.5 L329.0 398.3 L325.9 397.5 L325.5 396.7 M302.8 405.5 L306.3 404.3 L305.8 406.3 L302.8 405.5 M389.2 271.8 L395.3 269.8 L399.7 268.6 L402.3 271.8 L398.8 275.0 L397.9 277.7 L394.4 276.2 L390.1 275.0 L389.2 271.8 M377.8 273.4 L383.1 272.6 L386.6 275.0 L384.8 277.0 L380.5 277.0 L378.7 275.4 L377.8 273.4 M388.3 278.5 L393.5 278.1 L397.9 279.3 L396.2 280.5 L390.9 280.1 L388.3 278.5 M450.3 259.4 L452.0 256.2 L455.9 254.2 L459.4 253.8 L456.8 257.4 L452.9 261.4 L450.7 262.2 L450.3 259.4 M435.4 267.4 L438.1 262.2 L441.5 258.6 L440.2 262.2 L436.7 267.4 L435.4 267.4 M483.0 251.0 L485.2 249.4 L492.2 248.6 L495.6 249.8 L490.4 251.8 L486.0 253.4 L483.9 252.6 L483.0 251.0 M485.2 246.2 L489.5 244.6 L493.5 246.6 L490.4 247.8 L486.9 247.4 L485.2 246.2 M420.6 275.8 L422.3 275.0 L424.5 276.6 L423.7 277.4 L420.6 276.6 L420.6 275.8 M278.3 238.2 L281.0 235.8 L282.7 232.2 L284.5 231.0 L281.0 233.4 L278.3 235.0 L278.3 238.2 M263.1 245.8 L266.1 244.2 L268.7 245.4 L267.0 246.6 L263.1 245.8 M231.2 253.4 L238.2 249.4 L238.2 251.8 L236.5 253.8 L231.2 255.4 L230.3 254.2 L231.2 253.4 M233.8 257.4 L237.3 255.8 L240.8 259.0 L242.6 259.8 L239.9 261.0 L236.5 259.0 L233.8 257.4 M237.3 266.6 L238.2 264.6 L242.6 265.8 L240.8 267.0 L237.3 266.6 M227.7 220.6 L232.1 218.7 L235.6 219.1 L233.8 222.2 L232.5 225.8 L229.5 223.0 L227.7 220.6 M213.8 150.8 L219.9 148.8 L222.9 148.4 L219.9 150.0 L213.8 150.8 M66.7 414.3 L72.8 414.3 L72.4 415.3 L67.2 415.1 L66.7 414.3 M53.6 406.7 L56.2 407.1 L55.8 407.9 L53.6 407.5 L53.6 406.7 M41.0 408.3 L46.2 409.1 L47.1 409.9 L43.6 409.5 L41.0 408.3 M141.8 454.6 L146.6 454.6 L146.1 455.8 L142.2 455.4 L141.8 454.6 M534.0 427.9 L538.4 425.5 L537.5 428.3 L534.9 429.9 L534.0 427.9 M517.9 403.1 L522.7 402.3 L524.4 404.7 L520.1 405.1 L517.9 403.1 M518.3 408.7 L520.5 408.7 L520.1 411.5 L518.3 411.1 L518.3 408.7 M492.2 405.9 L496.5 405.1 L502.6 407.9 L507.0 413.1 L503.5 412.3 L498.3 408.7 L492.2 405.9 M470.3 410.7 L472.1 409.5 L473.8 412.3 L471.2 412.3 L470.3 410.7 M463.8 399.1 L466.4 398.7 L467.7 401.9 L465.5 401.5 L463.8 399.1 M343.6 249.6 L346.7 246.7 L350.6 244.6 M341.5 248.0 L342.1 247.1 L342.5 244.7 M342.2 252.5 L340.3 249.6 L337.0 248.4 L339.0 251.2 L342.2 252.5 M339.0 247.2 L341.4 245.3 L342.1 242.4 L339.7 244.2 L339.0 247.2 M341.4 244.9 L343.5 243.1 L347.8 242.4 M340.0 243.7 L341.0 241.0 L343.0 240.3 M338.2 242.3 L339.7 239.4 L338.9 237.3 M338.2 247.5 L336.3 244.6 L333.1 243.3 L335.0 246.2 L338.2 247.5 M338.0 241.3 L342.1 242.2 L345.9 242.3 M337.8 239.1 L340.0 239.0 L341.1 239.7 M334.7 242.7 L335.4 239.4 L334.0 236.2 L333.4 239.6 L334.7 242.7 M337.4 237.4 L340.3 235.5 L342.8 233.1 M336.9 236.0 L340.3 233.1 L342.7 228.9 M335.2 240.8 L334.7 236.7 L332.5 233.4 L332.9 237.4 L335.2 240.8 M336.5 234.7 L339.6 234.2 L340.9 233.4 M336.0 232.8 L341.7 233.9 L346.9 235.8 M335.5 230.9 L338.0 231.0 L342.4 229.9 M335.1 229.1 L338.0 228.8 L341.6 228.7 M335.2 228.0 L337.6 229.5 L339.6 230.3 M335.4 225.5 L338.2 224.3 L340.4 224.0 M333.5 228.7 L334.9 225.4 L334.2 221.9 L332.9 225.2 L333.5 228.7 M335.6 224.4 L337.2 226.1 L339.9 228.8 M332.2 226.8 L334.2 224.0 L334.3 220.5 L332.3 223.3 L332.2 226.8 M336.3 222.4 L338.7 224.2 L341.1 227.8 M333.3 225.4 L335.4 222.1 L335.6 218.2 L333.5 221.5 L333.3 225.4 M337.3 220.5 L336.2 224.4 L335.2 230.3 M338.9 220.0 L339.7 224.6 L341.7 227.2 M341.0 219.3 L342.1 222.6 L342.4 226.8 M342.6 218.8 L344.9 223.8 L349.8 226.7 M337.9 215.3 L341.4 215.2 L344.3 213.2 L340.8 213.3 L337.9 215.3 M344.6 218.2 L344.5 220.1 L346.8 220.6 M346.3 217.6 L348.3 221.9 L351.1 226.5 M342.7 216.2 L346.0 216.4 L348.9 214.7 L345.5 214.5 L342.7 216.2 M348.4 217.1 L348.7 218.8 L350.0 220.5 M343.6 213.6 L347.5 213.6 L350.9 211.7 L347.0 211.7 L343.6 213.6 M349.9 216.7 L352.0 218.7 L354.2 221.0 M345.5 213.8 L349.2 213.9 L352.4 212.1 L348.7 212.0 L345.5 213.8 M352.6 216.0 L354.3 221.3 L356.9 224.4 M349.9 212.5 L351.8 213.1 L353.2 211.7 L351.3 211.1 L349.9 212.5 M350.4 212.3 L353.5 212.5 L356.2 210.8 L353.0 210.6 L350.4 212.3 M355.4 215.1 L357.5 217.8 L359.9 218.3 M356.9 214.2 L356.4 216.8 L357.0 218.4 M359.2 212.9 L361.4 215.8 L365.0 217.9 M356.4 212.4 L358.8 212.2 L360.1 210.2 L357.8 210.5 L356.4 212.4 M362.5 211.6 L362.9 215.4 L360.7 221.6 M359.4 207.8 L361.2 208.2 L362.4 206.7 L360.5 206.3 L359.4 207.8 M365.8 210.4 L366.2 213.2 L368.7 214.3 M370.2 209.1 L369.8 211.7 L371.0 213.8 M366.0 208.4 L370.1 208.5 L373.8 206.8 L369.7 206.6 L366.0 208.4 M372.1 208.7 L371.4 212.6 L372.0 215.0 M374.9 208.1 L376.4 210.4 L376.4 212.4 M376.6 207.5 L376.8 209.5 L378.2 212.7 M378.3 206.3 L381.2 208.4 L385.8 210.3 M373.9 206.2 L377.4 205.0 L379.8 202.1 L376.3 203.4 L373.9 206.2 M380.2 205.2 L382.1 207.6 L383.8 211.0 M377.6 203.8 L379.6 204.0 L380.6 202.3 L378.7 202.2 L377.6 203.8 M382.2 204.1 L382.7 206.2 L384.3 207.0 M384.6 202.9 L385.8 206.4 L389.6 207.7 M379.1 201.0 L383.1 200.1 L386.2 197.4 L382.2 198.3 L379.1 201.0 M386.9 201.7 L388.6 203.0 L388.7 205.1 M388.7 199.9 L391.8 201.8 L394.3 201.3 M391.4 197.6 L392.6 200.9 L392.1 204.0 M387.1 197.9 L391.0 196.9 L394.0 194.2 L390.1 195.2 L387.1 197.9 M393.7 196.3 L396.0 198.7 L399.4 200.9 M391.1 194.9 L393.0 195.1 L393.9 193.4 L392.0 193.3 L391.1 194.9 M395.8 195.2 L396.2 198.0 L395.9 203.1 M391.5 194.8 L395.1 193.9 L397.7 191.3 L394.1 192.2 L391.5 194.8 M397.6 194.2 L397.7 197.7 L399.0 201.7 M399.4 192.8 L402.0 196.0 L403.8 200.0 M395.3 193.0 L398.0 191.5 L399.1 188.7 L396.4 190.2 L395.3 193.0 M397.3 189.5 L399.1 188.9 L399.4 187.0 L397.6 187.6 L397.3 189.5 M403.1 188.7 L405.5 189.6 L406.8 190.9 M405.1 186.9 L408.4 190.1 L412.1 191.3 M407.1 185.1 L407.7 187.0 L409.1 189.0 M408.8 184.0 L409.4 186.9 L411.4 188.8 M403.4 181.3 L407.0 180.5 L409.7 178.0 L406.1 178.8 L403.4 181.3 M410.9 182.9 L413.8 186.9 L419.9 188.9 M413.1 181.8 L416.3 183.9 L418.7 185.8 M415.0 180.8 L416.4 184.4 L415.3 186.6 M411.1 178.8 L413.8 178.5 L415.5 176.5 L412.8 176.8 L411.1 178.8 M416.5 180.1 L416.9 181.4 L419.9 183.6 M417.9 179.3 L419.7 181.7 L423.8 184.4 M415.8 178.5 L419.4 177.6 L422.0 174.9 L418.4 175.8 L415.8 178.5 M422.0 177.0 L423.6 179.2 L424.9 180.9 M418.3 175.6 L421.0 175.3 L422.7 173.2 L420.0 173.5 L418.3 175.6 M426.1 174.7 L425.6 177.0 L426.2 179.9 M421.5 174.0 L425.2 173.1 L428.0 170.4 L424.2 171.3 L421.5 174.0 M427.8 173.8 L427.6 175.3 L428.5 177.0 M430.0 172.8 L433.1 177.0 L436.2 179.2 M433.6 170.1 L436.3 172.6 L438.8 175.2 M435.1 168.4 L438.3 169.6 L440.5 170.1 M437.7 166.4 L438.9 167.7 L439.0 170.6 M434.2 162.8 L437.5 162.1 L439.9 159.6 L436.5 160.3 L434.2 162.8 M441.7 164.4 L441.9 167.6 L442.6 171.0 M444.0 163.5 L446.7 166.4 L448.7 170.2 M445.5 163.0 L446.6 164.5 L445.6 167.9 M448.0 162.1 L449.1 164.3 L451.3 165.4 M445.2 160.1 L447.4 160.4 L448.8 158.8 L446.7 158.5 L445.2 160.1 M447.5 157.7 L449.1 158.5 L450.5 157.3 L448.9 156.5 L447.5 157.7 M451.4 161.3 L451.7 163.0 L450.5 165.4 M448.9 156.6 L450.9 157.3 L452.6 156.1 L450.6 155.4 L448.9 156.6 M453.0 161.0 L453.3 163.9 L455.9 167.4 M449.2 158.5 L452.7 159.0 L455.9 157.5 L452.4 157.0 L449.2 158.5 M459.2 159.9 L459.7 161.1 L461.2 163.8 M456.1 156.1 L458.1 156.5 L459.6 155.0 L457.5 154.6 L456.1 156.1 M461.4 159.2 L462.4 161.9 L460.7 165.8 M463.4 158.6 L462.6 161.0 L462.6 165.5 M459.9 157.8 L463.1 157.8 L465.8 156.0 L462.6 155.9 L459.9 157.8 M467.4 157.5 L468.0 160.3 L468.3 162.0 M469.2 157.3 L467.5 160.3 L466.1 163.8 M466.8 153.5 L469.0 154.3 L471.0 153.1 L468.8 152.3 L466.8 153.5 M470.9 157.2 L470.7 159.3 L469.8 161.7 M468.5 153.6 L470.6 154.5 L472.6 153.3 L470.5 152.5 L468.5 153.6 M476.7 156.6 L476.9 157.6 L477.0 159.9 M473.5 152.8 L476.1 153.3 L478.3 151.9 L475.7 151.3 L473.5 152.8 M477.3 154.8 L480.7 155.3 L483.6 153.7 L480.3 153.3 L477.3 154.8 M482.4 155.5 L482.7 159.3 L485.5 163.1 M479.8 152.7 L482.0 153.3 L483.8 152.0 L481.7 151.4 L479.8 152.7 M484.5 155.1 L484.8 158.1 L487.9 159.9 M481.5 152.0 L484.1 152.7 L486.4 151.3 L483.8 150.7 L481.5 152.0 M486.6 154.8 L485.5 156.8 L484.9 160.5 M490.5 154.3 L491.7 157.7 L493.6 161.6 M493.1 153.9 L494.4 157.6 L493.8 160.0 M496.3 153.3 L496.7 156.6 L496.8 159.5 M498.4 152.5 L499.9 153.5 L499.1 156.1 M496.2 151.5 L498.2 151.8 L499.4 150.3 L497.4 150.0 L496.2 151.5 M502.6 150.9 L504.0 152.8 L505.0 154.7 M504.1 150.3 L505.6 154.1 L509.7 157.5 M505.9 149.7 L507.1 153.2 L509.3 154.5 M506.4 149.5 L507.5 150.5 L507.2 152.6 M508.6 149.3 L510.6 152.7 L513.3 156.0 M510.6 149.0 L512.3 151.9 L513.6 155.7 M512.6 148.8 L512.6 153.1 L515.1 157.4 M515.3 148.5 L515.3 153.0 L511.7 156.8 M519.2 148.5 L518.9 153.0 L520.7 156.6 M521.0 148.7 L520.8 150.1 L521.0 152.6 M523.1 149.0 L520.2 153.1 L517.6 157.1 M525.5 149.3 L525.2 151.8 L526.0 155.3 M527.1 149.5 L526.2 153.7 L523.2 156.6 M524.1 145.2 L527.5 146.6 L531.0 146.1 L527.7 144.6 L524.1 145.2 M528.2 149.6 L527.6 151.2 L527.7 154.9 M531.0 149.8 L530.5 153.6 L529.8 155.9 M528.6 145.8 L531.2 147.0 L534.0 146.2 L531.3 145.0 L528.6 145.8 M531.3 145.4 L533.5 146.5 L535.8 145.7 L533.6 144.5 L531.3 145.4 M535.7 150.0 L535.9 152.7 L534.4 156.9 M537.7 150.2 L538.6 153.9 L540.1 158.4 M535.8 146.9 L537.9 148.1 L540.0 147.2 L538.0 146.1 L535.8 146.9 M537.5 145.8 L539.8 146.9 L542.3 146.1 L540.0 144.9 L537.5 145.8 M541.7 150.5 L540.4 152.8 L538.4 155.7 M544.4 151.0 L544.5 153.7 L546.7 158.4 M541.7 148.3 L544.6 149.9 L548.0 149.4 L545.0 147.9 L541.7 148.3 M546.4 151.4 L545.6 155.3 L542.6 158.6 M544.9 146.6 L547.0 148.0 L549.5 147.5 L547.4 146.1 L544.9 146.6 M551.8 152.4 L553.0 156.7 L553.7 160.3 M553.7 152.7 L552.5 155.5 L551.3 159.4 M555.7 153.1 L554.9 156.3 L551.0 160.7 M553.8 150.0 L556.0 151.4 L558.5 150.9 L556.4 149.4 L553.8 150.0 M558.4 153.6 L557.6 156.8 L556.4 160.9 M560.4 154.0 L558.5 158.0 L556.3 160.2 M558.8 151.6 L560.6 153.0 L562.7 152.4 L561.0 151.0 L558.8 151.6 M562.2 154.3 L561.1 156.0 L560.6 158.6 M248.5 279.7 L250.4 277.9 L251.7 277.6 M245.4 283.5 L245.3 281.1 L243.5 279.6 L243.5 282.0 L245.4 283.5 M244.8 282.3 L244.6 279.4 L242.5 277.4 L242.8 280.3 L244.8 282.3 M247.6 277.1 L250.2 279.9 L251.8 281.9 M242.7 275.8 L245.6 274.7 L247.3 272.0 L244.3 273.2 L242.7 275.8 M249.1 275.9 L251.5 279.1 L253.0 280.9 M251.2 274.2 L253.9 277.3 L254.8 279.0 M248.4 273.9 L250.6 273.4 L251.6 271.3 L249.4 271.9 L248.4 273.9 M251.1 273.0 L252.1 271.6 L253.7 270.7 M250.8 269.8 L254.9 271.6 L257.7 271.8 M244.8 270.0 L248.1 267.6 L249.8 263.9 L246.5 266.3 L244.8 270.0 M249.6 270.1 L249.1 268.2 L247.7 267.4 M254.6 273.5 L250.5 273.5 L246.9 275.4 L251.0 275.4 L254.6 273.5 M250.7 271.9 L248.3 271.5 L246.4 273.0 L248.8 273.4 L250.7 271.9 M245.0 272.6 L243.8 270.1 L242.3 267.5 M243.4 274.9 L239.9 272.8 L238.5 269.8 M246.7 274.0 L244.4 275.6 L243.9 278.2 L246.1 276.7 L246.7 274.0 M243.4 274.6 L247.5 275.8 L249.8 276.0 M240.3 277.4 L241.3 274.6 L240.3 271.8 L239.3 274.6 L240.3 277.4 M243.4 272.2 L246.7 272.0 L248.2 271.5 M239.4 274.3 L240.4 272.2 L239.4 270.1 L238.4 272.2 L239.4 274.3 M243.4 269.3 L245.8 271.1 L247.4 273.4 M239.2 270.9 L240.8 268.6 L240.6 265.8 L238.9 268.1 L239.2 270.9 M244.1 267.0 L245.9 266.4 L249.8 266.9 M243.8 266.0 L244.7 263.4 L246.6 261.7 M244.6 270.1 L242.9 268.4 L240.4 268.5 L242.1 270.2 L244.6 270.1 M241.9 265.2 L242.7 263.8 L242.5 263.2 M242.3 270.0 L240.7 268.3 L238.4 268.5 L240.0 270.2 L242.3 270.0 M240.2 264.6 L241.6 262.0 L244.7 260.4 M240.2 267.4 L237.7 265.4 L234.4 265.2 L236.9 267.2 L240.2 267.4 M239.0 263.2 L239.2 264.9 L240.6 265.3 M240.5 262.2 L243.1 264.2 L244.8 266.6 M236.2 262.1 L239.6 260.9 L241.9 258.2 L238.5 259.3 L236.2 262.1 M242.0 260.7 L244.7 260.8 L245.7 262.5 M236.2 262.5 L238.4 259.4 L238.7 255.5 L236.5 258.7 L236.2 262.5 M242.0 256.3 L245.0 254.8 L247.8 253.8 M240.1 258.4 L240.7 256.5 L239.4 255.1 L238.8 257.0 L240.1 258.4 M236.9 252.6 L240.1 251.6 L242.2 249.0 L239.0 250.0 L236.9 252.6 M246.4 251.8 L247.0 254.8 L247.8 257.8 M248.0 249.6 L250.1 250.8 L250.6 252.4 M249.1 248.5 L248.8 252.3 L246.4 254.4 M251.7 248.6 L251.4 250.7 L253.7 253.8 M249.3 245.1 L251.8 246.2 L254.4 245.4 L251.9 244.2 L249.3 245.1 M253.9 248.7 L252.8 248.9 L252.7 250.6 M250.5 243.6 L254.1 244.8 L257.8 243.9 L254.2 242.8 L250.5 243.6 M255.5 248.8 L254.9 250.8 L254.6 252.3 M95.5 197.4 L95.5 195.5 L97.7 194.2 M93.2 196.9 L93.0 194.8 L93.7 194.0 M89.3 196.0 L90.0 195.1 L90.5 193.4 M86.9 195.4 L87.1 192.6 L87.0 190.9 M83.4 194.6 L84.6 192.5 L84.2 189.0 M81.5 194.2 L82.0 193.1 L83.9 190.9 M84.2 196.5 L81.4 194.8 L78.2 195.1 L81.0 196.8 L84.2 196.5 M79.9 193.8 L81.5 191.4 L81.4 190.2 M79.6 192.9 L80.3 194.4 L82.1 195.4 M80.9 192.2 L82.1 192.8 L83.2 194.3 M82.4 191.4 L83.8 193.2 L83.9 193.0 M84.6 190.2 L86.4 191.1 L87.7 192.1 M86.5 189.1 L86.8 190.0 L87.0 192.5 M87.9 188.5 L88.5 189.4 L87.6 190.9 M90.9 187.6 L91.3 188.1 L90.7 190.0 M88.0 185.1 L90.3 185.5 L92.0 184.0 L89.7 183.6 L88.0 185.1 M93.4 186.9 L94.2 189.7 L95.8 190.5 M95.0 186.4 L94.8 188.3 L95.4 188.6 M96.9 185.9 L95.4 187.9 L94.7 188.2 M100.6 187.6 L100.3 190.8 L99.2 193.1 M101.9 188.3 L102.4 190.8 L102.1 194.3 M104.1 189.2 L103.3 192.0 L102.1 194.1 M202.3 300.4 L202.8 300.4 L203.1 302.4 M202.4 297.6 L205.9 296.3 L208.3 293.3 L204.8 294.6 L202.4 297.6 M208.2 295.2 L209.4 297.4 L212.0 297.4 M211.1 291.6 L211.0 289.6 L212.6 289.4 M208.0 290.9 L208.2 290.0 L209.3 287.9 M205.4 290.4 L207.2 287.9 L207.8 287.5 M205.4 287.2 L207.0 287.1 L206.7 288.4 M205.1 283.4 L206.8 282.3 L207.3 282.7 M207.6 283.2 L206.8 285.4 L205.9 287.2 M213.0 282.9 L213.1 284.8 L212.3 284.6 M218.0 282.9 L218.3 284.3 L219.2 285.9 M216.4 278.2 L218.0 279.2 L219.6 278.2 L218.0 277.2 L216.4 278.2 M216.8 280.8 L218.2 280.0 L218.7 277.5 M215.2 284.0 L215.1 281.9 L213.2 280.8 L213.4 282.9 L215.2 284.0 M216.9 279.5 L219.8 280.2 L221.1 280.7" stroke-width="1.1"/>
<path d="M214.9 382.2 L220.7 380.4 L221.6 382.8 L229.5 382.0 L235.1 381.6 L238.2 384.4 L232.1 388.8 L233.0 394.3 L231.2 399.5 L226.9 399.9 L228.6 401.9 L231.2 404.3 L228.6 409.5 L231.2 411.5 L226.9 416.7 L227.7 419.5 M276.6 370.0 L280.1 372.8 L286.2 374.0 L292.3 375.6 L298.4 374.4 L305.0 376.4 L307.6 377.2 L312.4 378.0 L319.4 377.6 M314.6 308.5 L317.6 311.7 L321.1 313.3 L328.1 314.9 L329.0 317.7 L334.6 316.1 L334.6 318.9 L340.3 321.3 L342.9 320.9 L347.7 321.7 L350.8 323.7 L356.9 324.1 L363.9 325.5 L360.4 329.3 L358.6 333.3 L358.6 336.4 M358.6 336.4 L353.0 337.6 L348.6 342.0 L345.5 346.0 L344.2 348.0 L346.9 347.6 L351.7 346.0 L352.1 350.4 L354.3 354.0 L350.3 356.4 L353.4 359.6 L352.5 362.4 L359.1 364.0 L357.8 366.8 M352.1 350.4 L360.8 350.0 L366.1 345.6 L370.4 350.4 L373.5 345.6 L380.5 347.2 L383.5 342.0 L376.1 340.8 L375.7 337.2 L370.9 335.6 L366.5 336.4 L358.6 336.4 M322.0 306.5 L329.8 306.5 L335.9 305.7 L343.4 308.1 L342.1 311.3 L344.7 311.3 L347.7 314.5 L346.0 316.1 L349.0 318.9 L347.7 321.7 M346.0 316.1 L342.5 318.5 L342.9 320.9 M344.7 311.3 L345.5 307.7 L344.7 302.9 L351.7 301.3 L353.8 299.3 L350.8 296.5 L353.8 296.1 L355.1 291.3 M367.8 278.1 L374.8 278.9 M416.2 286.1 L418.0 290.9 L415.8 294.5 L420.2 296.9 L421.0 303.7 L423.2 306.9 L421.9 310.3 M421.9 310.3 L417.1 308.9 L410.1 311.7 L401.4 314.1 L397.9 314.9 L401.4 318.9 L403.6 322.1 L413.2 327.3 L409.7 328.9 L404.9 332.1 L405.8 334.8 L406.2 337.2 L398.8 336.0 L388.3 338.0 L383.5 336.8 L377.4 336.8 L375.7 337.2 M383.5 342.0 L388.3 342.8 L398.3 340.8 L400.5 343.6 L411.9 345.2 L419.3 346.0 L428.9 343.6 L432.8 342.4 L435.9 338.0 L441.5 335.2 L442.0 333.3 L440.2 328.5 L432.8 327.3 L423.2 325.3 L420.6 328.5 L413.2 327.3 M411.9 345.2 L409.3 347.6 L411.0 350.8 L412.7 352.4 M411.4 353.6 L418.9 353.2 L425.8 353.2 L429.3 350.4 L428.9 347.6 L436.7 345.2 L432.8 342.4 M436.7 345.2 L443.3 349.6 L457.3 350.0 L469.0 348.0 L477.3 346.0 L484.3 337.2 L492.2 333.3 L485.6 330.1 L479.1 328.9 L469.5 331.3 L458.1 332.9 L456.4 334.8 L442.0 333.3 M440.2 328.5 L445.9 326.5 L450.3 324.5 L456.8 321.3 M421.9 310.3 L425.8 311.3 L434.6 312.1 L434.6 316.5 L439.8 314.1 L446.8 314.9 L449.4 317.3 L456.8 321.3 L462.1 320.5 L467.7 323.7 L475.6 322.1 L489.1 324.5 L490.4 320.5 L498.3 314.1 L502.6 310.5 L498.3 305.3 L498.7 300.5 L494.8 298.9 L500.9 295.7 L497.4 286.1 L491.3 282.5 L465.1 281.7 M489.1 324.5 L485.6 330.1 M491.3 282.5 L490.4 277.7 L484.3 277.0 L477.8 275.4 M497.4 286.1 L505.2 286.1 L515.7 282.9 L517.0 278.1 L524.4 275.0 L524.4 272.0 L538.0 268.2 L534.0 258.6 L531.0 257.0 L532.3 251.8 L532.3 246.2 L537.1 241.7 M476.0 268.8 L484.3 266.2 L501.8 267.0 L509.6 266.2 L524.4 272.0 M504.8 254.4 L513.1 253.4 L523.6 257.0 L531.0 257.0 M538.0 268.2 L548.9 271.4 L562.0 272.6 L561.1 278.9 L569.8 286.9 L577.7 289.7 L567.2 291.7 L569.8 300.5 M498.3 305.3 L510.5 302.1 L529.7 304.5 L547.1 305.3 L558.9 306.9 L559.4 302.1 L569.8 300.5 L587.3 298.5 L589.9 304.1 L598.6 307.7 L603.0 314.1 L619.6 314.1 L623.9 318.1 L634.4 318.5 L642.3 320.5 L638.8 328.5 L640.5 330.9 L639.6 334.4 L626.6 336.4 L625.7 340.4 M492.2 333.3 L509.6 335.6 L524.4 331.3 L534.9 329.7 L546.3 333.7 L553.7 344.4 L555.0 346.0 L545.0 345.6 L538.4 353.6 L551.1 355.6 M524.4 331.3 L532.3 337.6 L537.5 342.0 L538.4 353.6 M490.4 363.6 L492.2 366.4 L501.8 367.2 L514.8 368.0 L527.9 364.0 L541.9 367.2 M469.0 348.0 L479.1 355.6 L479.1 358.8 L488.2 359.6 L490.4 363.6 L487.8 367.6 L493.0 371.6 L487.8 378.8 L492.6 386.4 L504.4 384.8 L513.1 387.2 L522.3 383.6 L527.9 380.8 L536.7 381.3 M522.3 383.6 L524.4 386.4 L519.6 391.5 M466.9 399.5 L473.0 394.7 L475.6 390.4 L484.3 388.0 L492.6 386.4 M475.6 390.4 L471.2 386.8 L472.1 382.0 L479.1 379.2 L487.8 378.8 M461.2 382.4 L465.1 377.2 L467.7 376.8 L472.1 382.0 M467.7 376.8 L469.9 374.4 L460.3 369.2 L453.3 376.8 M453.3 376.8 L446.3 373.2 L438.1 366.8 L431.9 362.0 L429.8 358.8 L430.2 355.6 L439.8 355.2 L449.4 356.4 L458.1 358.4 L461.6 362.8 L462.5 368.4 L460.3 369.2 M458.1 358.4 L458.1 353.2 L457.3 350.0 M654.9 385.2 L664.1 384.8 L671.5 388.4 L673.7 396.3 L683.3 399.5 L679.8 410.7 L683.3 419.5 L661.9 420.3 L648.4 420.3 L634.4 423.9 L623.9 422.3 L616.1 423.9 L611.7 422.7 L612.6 427.1 L607.8 429.1 L606.0 429.5 M641.4 370.0 L654.5 371.2 L667.6 375.6 L680.7 375.6 L685.0 376.4 M671.5 388.4 L685.0 387.2 M661.9 420.3 L651.9 425.9 L652.7 432.3 L650.1 441.9 L630.9 449.8 L634.4 459.8 L615.2 465.0 L623.9 473.0 L619.6 477.0 M634.4 459.8 L644.9 461.4 L658.8 468.2 L682.4 483.4 M630.9 449.8 L613.5 458.6 L604.3 455.0 M606.0 439.9 L610.4 440.7 L611.7 443.5 L605.2 449.8 L603.0 451.0 L598.6 452.2 M603.0 451.0 L603.0 455.4 L602.6 457.8 L602.1 465.0 L597.8 480.6 M591.2 466.6 L596.9 481.0 M511.8 463.8 L509.2 469.0 L510.5 477.0 L510.5 485.0 M392.7 451.8 L392.7 457.8 L384.8 461.0 L382.2 469.0 L375.7 475.0 L371.3 460.2 L364.7 457.0 L363.0 452.2 L357.8 447.5 L357.8 444.3 L364.7 440.3 L365.2 434.7 L364.7 425.9 L367.4 421.5 M273.1 436.3 L277.0 439.1 L276.6 442.3 L277.5 447.5 L283.6 456.2 L281.4 460.2 L270.5 460.2 L266.6 462.6 L260.5 463.8 L260.5 469.4 L253.9 472.2 L246.9 477.4 M389.6 244.6 L395.3 243.4 L394.4 238.2 L401.4 236.6 L402.3 234.2 L398.8 229.4 L404.5 226.6 L398.3 223.4 L399.7 219.1 L397.5 213.5 L396.6 211.1 L398.8 208.7 L403.1 205.5 L414.1 205.5 L415.8 201.9 L411.4 200.7 L418.9 195.1 L418.9 188.3 L427.1 187.1 L435.4 179.9 L432.8 177.9 L443.3 172.7 L450.7 169.1 L466.4 170.7 L469.0 169.5 L471.6 165.1 M471.6 165.1 L484.3 169.5 L498.7 173.9 L497.0 177.9 L498.7 179.5 L501.8 183.1 L498.7 187.1 L503.1 190.9 M471.6 165.1 L477.8 163.2 L481.2 163.5 L487.4 166.7 L494.8 168.3 L509.6 168.7 L517.0 165.5 L519.2 160.0 L527.9 158.1 L536.2 156.8 L540.2 158.8 L548.0 161.6 L544.8 165.1 M544.8 165.1 L548.4 162.0 L555.0 160.4 L561.5 159.2 M544.8 165.1 L540.6 169.1 L553.7 175.9 L545.8 181.9 L555.0 191.9 L551.9 199.1 L558.9 204.7 L554.1 207.5 L567.6 214.3 L554.1 222.2 L534.9 233.0" stroke-width="0.9"/>
<path d="M511.8 397.4 L512.9 396.8 L514.0 397.4 L512.9 398.0 L511.8 397.4 L514.0 397.4 M505.4 392.3 L506.9 391.8 L508.4 392.3 L506.9 392.8 L505.4 392.3 L508.4 392.3 M515.0 395.7 L516.3 395.0 L517.6 395.7 L516.3 396.4 L515.0 395.7 L517.6 395.7 M505.1 406.9 L506.0 406.1 L506.9 406.9 L506.0 407.7 L505.1 406.9 L506.9 406.9 M518.9 404.3 L519.7 403.6 L520.5 404.3 L519.7 405.0 L518.9 404.3 L520.5 404.3 M520.5 410.3 L521.4 409.8 L522.3 410.3 L521.4 410.8 L520.5 410.3 L522.3 410.3 M523.1 411.1 L524.3 410.2 L525.5 411.1 L524.3 412.0 L523.1 411.1 L525.5 411.1 M509.4 415.4 L510.3 414.8 L511.2 415.4 L510.3 416.0 L509.4 415.4 L511.2 415.4 M503.7 417.1 L505.1 416.1 L506.5 417.1 L505.1 418.1 L503.7 417.1 L506.5 417.1 M520.0 416.3 L521.4 415.6 L522.8 416.3 L521.4 417.0 L520.0 416.3 L522.8 416.3 M511.9 421.4 L513.7 420.9 L515.5 421.4 L513.7 421.9 L511.9 421.4 L515.5 421.4 M503.4 423.5 L505.1 422.9 L506.8 423.5 L505.1 424.1 L503.4 423.5 L506.8 423.5 M521.4 424.9 L522.3 424.3 L523.2 424.9 L522.3 425.5 L521.4 424.9 L523.2 424.9 M492.9 426.6 L494.0 425.7 L495.1 426.6 L494.0 427.5 L492.9 426.6 L495.1 426.6 M528.1 432.6 L529.1 431.8 L530.1 432.6 L529.1 433.4 L528.1 432.6 L530.1 432.6 M490.0 418.9 L491.4 418.2 L492.8 418.9 L491.4 419.6 L490.0 418.9 L492.8 418.9 M493.6 413.7 L494.9 413.2 L496.2 413.7 L494.9 414.2 L493.6 413.7 L496.2 413.7 M417.1 430.6 L418.0 430.0 L418.9 430.6 L418.0 431.2 L417.1 430.6 L418.9 430.6 M71.8 421.3 L73.3 420.6 L74.8 421.3 L73.3 422.0 L71.8 421.3 L74.8 421.3 M496.9 409.0 L498.0 408.2 L499.1 409.0 L498.0 409.8 L496.9 409.0 L499.1 409.0 M499.2 412.5 L500.5 411.9 L501.8 412.5 L500.5 413.1 L499.2 412.5 L501.8 412.5 M506.9 411.0 L508.5 410.2 L510.1 411.0 L508.5 411.8 L506.9 411.0 L510.1 411.0 M516.0 419.5 L517.0 418.7 L518.0 419.5 L517.0 420.3 L516.0 419.5 L518.0 419.5 M507.7 426.5 L509.0 425.6 L510.3 426.5 L509.0 427.4 L507.7 426.5 L510.3 426.5 M524.5 420.0 L526.0 419.4 L527.5 420.0 L526.0 420.6 L524.5 420.0 L527.5 420.0 M512.7 401.5 L514.5 400.9 L516.3 401.5 L514.5 402.1 L512.7 401.5 L516.3 401.5 M502.3 84.3 L510.0 82.5 L517.7 80.9 L524.0 79.1 L530.0 78.6 M522.3 87.1 L525.7 88.3 L528.6 88.0 M537.1 87.1 L541.7 86.0 L551.4 86.6 M510.3 106.6 L515.4 104.0 M502.9 94.6 L509.7 94.6" stroke-width="1.2"/>
<path d="M101.7 107.2 L108.6 106.5 L117.1 107.7 L124.0 106.9 L128.3 108.2 L130.9 110.3 M101.6 108.0 L105.8 107.3 L108.6 107.4 L110.9 107.6 L114.5 108.9 L116.5 107.7 L119.9 108.9 L124.3 106.0 L129.1 110.3 L130.9 110.3 M96.6 112.9 L103.4 112.0 L110.3 113.7 L117.1 112.3 L124.0 113.7 L122.3 115.4 L113.7 115.1 L108.6 116.3 L117.1 117.1 L127.4 116.3 L134.3 115.1 L141.1 117.1 L136.0 118.5 L130.9 117.5 L125.7 119.2 L120.6 118.5 M96.8 113.8 L99.5 111.5 L103.5 111.2 L106.4 112.6 L109.5 114.2 L113.6 114.7 L117.2 113.4 L120.6 114.1 L123.9 113.6 L123.1 117.6 L120.0 116.6 L116.3 114.9 L113.4 114.3 L111.6 116.0 L109.1 116.5 L112.2 118.3 L113.5 116.5 L117.8 117.6 L120.5 117.2 L121.6 117.7 L125.3 116.4 L126.8 116.4 L131.6 117.1 L133.7 114.9 L137.1 115.3 L141.6 116.7 L138.7 118.3 L135.5 119.9 L132.8 119.1 L130.2 117.8 L127.8 118.2 L126.5 120.8 L122.8 120.7 L120.6 118.5 M96.6 118.9 L103.4 120.2 L110.3 119.2 L117.1 121.4 L124.0 120.6 L132.6 121.4 L120.6 123.1 L113.7 122.3 M96.1 119.1 L100.6 120.6 L102.8 122.4 L106.4 119.5 L110.7 119.3 L113.4 119.6 L116.5 122.3 L120.2 121.9 L123.8 121.0 L127.6 121.4 L129.8 122.9 L132.1 120.9 L130.2 123.5 L126.2 121.9 L124.0 124.7 L120.1 125.2 L117.8 123.6 L113.7 122.3 M98.3 124.9 L105.1 125.7 L110.3 124.0 L115.4 126.6 L113.7 129.1 L108.6 130.0 L103.4 128.3 M98.2 124.2 L101.0 127.4 L104.7 127.0 L107.3 126.5 L110.4 123.9 L112.3 126.6 L114.7 126.3 L113.8 130.9 L111.3 129.5 L109.2 129.7 L105.2 129.0 L103.4 128.3 M50.3 131.7 L57.1 130.5 L67.4 127.4 L72.6 129.1 L81.1 127.4 L88.0 129.5 L96.6 129.1 L100.0 130.9 M50.2 130.9 L53.2 131.3 L57.3 129.9 L59.5 131.6 L63.1 130.1 L65.2 129.1 L66.9 126.5 L69.2 130.2 L72.9 131.2 L74.7 129.6 L78.3 129.3 L80.9 129.6 L83.9 129.2 L88.4 131.4 L91.2 130.6 L94.2 131.2 L96.3 130.3 L100.0 130.9 M52.0 133.4 L62.3 134.3 L69.1 132.6 L77.7 131.7 L84.6 133.4 L93.1 132.6 L101.7 134.3 M52.6 135.2 L54.4 135.2 L57.7 134.7 L59.9 134.3 L62.4 135.2 L65.0 134.5 L69.9 134.4 L72.4 132.5 L75.2 132.9 L77.6 133.4 L80.5 134.0 L83.8 134.4 L87.4 132.9 L90.6 133.5 L93.3 134.5 L95.6 132.2 L98.5 134.9 L101.7 134.3 M53.7 135.1 L64.0 136.9 L72.6 135.1 L79.4 136.3 L86.3 135.1 L96.6 136.9 L103.4 136.3 M53.2 134.7 L56.9 136.7 L58.8 137.9 L61.2 137.6 L63.5 137.2 L67.3 138.2 L70.3 135.9 L72.7 135.2 L75.4 136.3 L80.0 138.1 L83.2 137.8 L85.9 134.7 L88.8 135.5 L91.0 136.3 L94.2 137.0 L96.3 138.5 L100.8 137.1 L103.4 136.3 M58.9 131.2 L69.1 130.5 L79.4 130.2 L89.7 131.5 L98.3 132.6 M58.2 130.3 L62.0 130.2 L64.3 131.7 L66.3 132.2 L68.4 130.0 L71.6 129.5 L74.8 130.1 L76.3 129.4 L79.6 130.6 L82.2 131.6 L85.1 132.9 L87.4 130.8 L89.7 131.1 L91.8 132.4 L95.8 131.8 L98.3 132.6 M69.1 138.6 L76.0 140.3 L84.6 138.6 L93.1 141.1 L100.0 140.3 M68.8 138.7 L72.9 140.1 L76.2 141.7 L78.7 141.3 L82.4 138.4 L85.3 139.9 L86.8 139.9 L90.5 142.2 L92.9 142.0 L97.2 142.3 L100.0 140.3 M42.6 141.1 L48.6 142.9 L55.4 144.6 L52.0 145.9 L45.1 144.9 M43.3 141.6 L45.8 141.7 L48.9 144.5 L52.2 145.0 L55.0 146.5 L52.8 148.1 L48.6 147.0 L45.1 144.9 M43.4 145.9 L52.0 147.1 L62.3 146.3 L70.9 144.9 M43.1 147.9 L46.9 146.5 L48.5 147.2 L52.1 148.6 L54.6 146.0 L57.6 145.9 L60.2 146.1 L62.0 147.8 L64.6 145.3 L68.0 146.7 L70.9 144.9 M46.9 149.7 L51.1 148.9 L53.7 151.4 L50.3 153.1 L46.9 151.4 L46.9 149.7 M47.4 150.9 L51.9 149.4 L54.4 150.7 L49.8 153.8 L46.5 152.8 L46.9 149.7 M38.3 154.9 L45.1 154.0 L53.7 155.2 L62.3 153.5 L69.1 154.5 M38.5 155.5 L42.3 155.2 L44.8 154.2 L48.6 156.3 L50.4 156.5 L54.5 155.9 L56.7 154.3 L59.5 154.7 L62.5 152.6 L66.5 154.7 L69.1 154.5 M45.1 156.6 L53.7 157.4 L62.3 156.2 M45.0 158.1 L48.1 157.4 L51.2 156.4 L53.8 157.8 L57.3 159.0 L59.1 157.1 L62.3 156.2 M93.1 143.7 L100.0 144.9 L103.4 148.0 L100.0 149.7 L95.7 148.0 L93.1 143.7 M92.5 144.1 L97.1 146.2 L100.0 144.9 L102.9 149.0 L100.7 149.1 L96.2 147.1 L93.1 143.7 M68.3 151.4 L79.4 152.3 L89.7 151.4 L100.0 152.3 L106.0 153.5 L103.4 155.2 L93.1 155.2 L82.9 156.6 L72.6 155.2 L68.3 151.4 M67.8 151.2 L71.4 151.7 L73.6 152.8 L76.0 153.4 L78.8 152.9 L81.6 151.7 L84.6 152.3 L86.9 152.0 L89.8 150.9 L91.8 152.7 L95.1 152.6 L98.0 153.0 L100.6 152.0 L103.4 154.5 L106.6 153.5 L103.1 157.2 L100.4 157.4 L98.9 154.6 L95.3 156.5 L92.8 154.5 L91.1 155.9 L88.5 155.3 L85.3 157.4 L82.1 156.2 L80.6 158.1 L78.5 155.3 L75.2 157.0 L72.6 156.4 L69.9 152.5 L68.3 151.4 M29.7 171.1 L34.9 170.3 L38.3 171.1 L44.3 169.4 L50.3 169.9 L62.3 167.7 L74.3 165.1 L79.4 163.1 L86.3 160.9 L99.1 156.9 L100.0 158.3 L88.0 162.1 L76.0 166.0 M29.1 170.3 L32.4 171.4 L35.0 169.8 L37.8 170.8 L41.8 172.5 L45.0 168.7 L46.6 171.7 L50.2 171.4 L53.0 169.9 L56.3 169.2 L59.4 167.3 L62.6 169.4 L64.8 167.5 L68.7 166.7 L70.8 165.3 L74.3 164.2 L77.5 165.7 L79.8 164.8 L83.1 162.3 L86.4 161.5 L89.6 161.6 L91.0 161.2 L94.4 160.0 L97.1 158.0 L99.8 158.7 L100.3 159.7 L98.0 159.3 L95.6 159.0 L92.6 161.1 L89.6 161.4 L88.2 163.1 L85.2 164.9 L83.5 163.7 L81.1 165.2 L78.5 165.5 L76.0 166.0" stroke-width="1.3"/>
</g>
<g id="thermo">
<use href="#th" x="523.2" y="179.3"/><use href="#th" x="371.1" y="208.6"/><use href="#th" x="432.3" y="211.4"/><use href="#th" x="600" y="201.5"/><use href="#th" x="657.1" y="243.7"/><use href="#th" x="522.2" y="250.2"/><use href="#th" x="272.3" y="277.8"/><use href="#th" x="380" y="286.4"/><use href="#th" x="454.2" y="278.3"/><use href="#th" x="593.4" y="281.2"/><use href="#th" x="312.9" y="331.4"/><use href="#th" x="533.2" y="314.5"/><use href="#th" x="424.9" y="336"/><use href="#th" x="489.2" y="353.6"/>
</g>
<!-- frame -->
<rect x="30.5" y="77.7" width="654.5" height="399.3" fill="none" stroke="#000" stroke-width="2"/>
<g stroke="#000" stroke-width="1"><path d="M26 78H30M26 158H30M26 238H30M26 317.5H30M26 397.5H30M26 477H30M30.5 477V481M117.8 477V481M205 477V481M292.3 477V481M379.6 477V481M466.8 477V481M554.1 477V481M641.4 477V481"/></g>
<!-- banner -->
<rect x="30" y="77" width="472" height="29.5" fill="#000"/>
<!-- colorbar -->
<g>
<polygon points="134,508.6 172.7,503 172.7,514.3" fill="#3200a0"/>
<rect x="172.7" y="503" width="41.2" height="11.3" fill="#4b3cc8"/>
<rect x="213.8" y="503" width="41.2" height="11.3" fill="#1e64d2"/>
<rect x="254.9" y="503" width="41.2" height="11.3" fill="#3c96f5"/>
<rect x="296" y="503" width="40.8" height="11.3" fill="#78b9fa"/>
<rect x="377.6" y="503" width="41.4" height="11.3" fill="#ffa000"/>
<rect x="418.8" y="503" width="40.4" height="11.3" fill="#ff3400"/>
<rect x="459" y="503" width="41" height="11.3" fill="#a50000"/>
<rect x="499.8" y="503" width="41" height="11.3" fill="#c8a096"/>
<polygon points="540.6,503 583,508.6 540.6,514.3" fill="#785046" stroke="#000" stroke-width="0.7" stroke-dasharray="3,2"/>
<g stroke="#000" stroke-width="1"><path d="M172.5 503V514.5M213.5 503V514.5M254.5 503V514.5M295.5 503V514.5M336.5 503V514.5M377.5 503V514.5M418.5 503V514.5M459.5 503V514.5M500.5 503V514.5M540.5 503V514.5M172.5 514.3H541"/></g>
</g>
<!-- NOAA logo -->
<g shape-rendering="auto" transform="translate(600,0)">
<clipPath id="lc"><circle cx="30.4" cy="23.2" r="22.5"/></clipPath>
<circle cx="30.4" cy="23.2" r="22.5" fill="#14ffff"/>
<g clip-path="url(#lc)">
<polygon points="12,10 7,17.5 19,26.5 26.5,30.8 24,33.9 31,32.8 42,28.7 42,27.8 36.5,28.3 45,21 53.5,15.5 50,9 30,0" fill="#fff"/>
<polygon points="11.8,11 20,0 42,0 49.2,10.6 37.5,26.6 35,27.9 28,27.9 26,26.3" fill="#1e1eff"/>
</g>
<text x="21" y="16.8" font-family="Liberation Sans" font-weight="bold" font-size="8.2" fill="#fff" textLength="19.5" lengthAdjust="spacingAndGlyphs">NOAA</text>
</g>
<g font-family="Liberation Sans" shape-rendering="auto" text-rendering="geometricPrecision">
<text x="216" y="48.7" font-size="14" textLength="46.2" lengthAdjust="spacing" fill="#ff3c3c" text-anchor="start" >CFSv2</text>
<text x="273.6" y="48.7" font-size="14" textLength="60.8" lengthAdjust="spacing" fill="#ff3c3c" text-anchor="start" >monthly</text>
<text x="344.1" y="48.7" font-size="14" textLength="32.5" lengthAdjust="spacing" fill="#ff3c3c" text-anchor="start" >T2m</text>
<text x="388" y="48.7" font-size="14" textLength="78.4" lengthAdjust="spacing" fill="#ff3c3c" text-anchor="start" >anomalies</text>
<text x="477.1" y="48.7" font-size="14" textLength="22.4" lengthAdjust="spacing" fill="#ff3c3c" text-anchor="start" >(K)</text>
<text x="31.4" y="74.4" font-size="12.7" textLength="24.3" lengthAdjust="spacing" fill="#1e1eff" text-anchor="start" >Dec</text>
<text x="64.3" y="74.4" font-size="12.7" textLength="33.1" lengthAdjust="spacing" fill="#1e1eff" text-anchor="start" >2025</text>
<text x="576" y="56.4" font-size="12.3" textLength="110.4" lengthAdjust="spacing" fill="#000" text-anchor="start" >NWS/NCEP/CPC</text>
<text x="450.6" y="74.6" font-size="10.2" textLength="28.4" lengthAdjust="spacing" fill="#000" text-anchor="start" >Initial</text>
<text x="487" y="74.6" font-size="10.2" textLength="60.4" lengthAdjust="spacing" fill="#000" text-anchor="start" >conditions:</text>
<text x="555" y="74.6" font-size="10.2" textLength="130" lengthAdjust="spacing" fill="#000" text-anchor="start" >30Nov2025–9Dec2025</text>
<text x="34" y="99" font-size="22" textLength="464" lengthAdjust="spacing" fill="#fff" text-anchor="start" >Anomalie thermique prévue en Décembre 2025</text>
<text x="7.4" y="81.9" font-size="10" textLength="16.8" lengthAdjust="spacing" fill="#000" text-anchor="start" >80N</text>
<text x="7.4" y="162" font-size="10" textLength="16.8" lengthAdjust="spacing" fill="#000" text-anchor="start" >70N</text>
<text x="7.4" y="242" font-size="10" textLength="16.8" lengthAdjust="spacing" fill="#000" text-anchor="start" >60N</text>
<text x="7.4" y="321.5" font-size="10" textLength="16.8" lengthAdjust="spacing" fill="#000" text-anchor="start" >50N</text>
<text x="7.4" y="401.5" font-size="10" textLength="16.8" lengthAdjust="spacing" fill="#000" text-anchor="start" >40N</text>
<text x="7.4" y="481.4" font-size="10" textLength="16.8" lengthAdjust="spacing" fill="#000" text-anchor="start" >30N</text>
<text x="22" y="490.6" font-size="10.3" textLength="18" lengthAdjust="spacing" fill="#000" text-anchor="start" >30W</text>
<text x="109" y="490.6" font-size="10.3" textLength="18" lengthAdjust="spacing" fill="#000" text-anchor="start" >20W</text>
<text x="196.2" y="490.6" font-size="10.3" textLength="18" lengthAdjust="spacing" fill="#000" text-anchor="start" >10W</text>
<text x="370.8" y="490.6" font-size="10.3" textLength="18" lengthAdjust="spacing" fill="#000" text-anchor="start" >10E</text>
<text x="458" y="490.6" font-size="10.3" textLength="18" lengthAdjust="spacing" fill="#000" text-anchor="start" >20E</text>
<text x="545.3" y="490.6" font-size="10.3" textLength="18" lengthAdjust="spacing" fill="#000" text-anchor="start" >30E</text>
<text x="632.6" y="490.6" font-size="10.3" textLength="18" lengthAdjust="spacing" fill="#000" text-anchor="start" >40E</text>
<text x="289.5" y="490.6" font-size="10.3" textLength="6" lengthAdjust="spacing" fill="#000" text-anchor="start" >0</text>
<text x="168.6" y="524.4" font-size="9.8" textLength="12.7" lengthAdjust="spacing" fill="#000" text-anchor="start" >−4</text>
<text x="209.5" y="524.4" font-size="9.8" textLength="12.7" lengthAdjust="spacing" fill="#000" text-anchor="start" >−3</text>
<text x="250.5" y="524.4" font-size="9.8" textLength="12.7" lengthAdjust="spacing" fill="#000" text-anchor="start" >−2</text>
<text x="291.5" y="524.4" font-size="9.8" textLength="11.5" lengthAdjust="spacing" fill="#000" text-anchor="start" >−1</text>
<text x="327.3" y="524.4" font-size="9.8" textLength="22" lengthAdjust="spacing" fill="#000" text-anchor="start" >−0.5</text>
<text x="369.8" y="524.4" font-size="9.8" textLength="15.8" lengthAdjust="spacing" fill="#000" text-anchor="start" >0.5</text>
<text x="416.3" y="524.4" font-size="9.8" textLength="5.4" lengthAdjust="spacing" fill="#000" text-anchor="start" >1</text>
<text x="457.3" y="524.4" font-size="9.8" textLength="5.4" lengthAdjust="spacing" fill="#000" text-anchor="start" >2</text>
<text x="498.3" y="524.4" font-size="9.8" textLength="5.4" lengthAdjust="spacing" fill="#000" text-anchor="start" >3</text>
<text x="538.8" y="524.4" font-size="9.8" textLength="5.4" lengthAdjust="spacing" fill="#000" text-anchor="start" >4</text>
</g>
</svg>
</body></html>
